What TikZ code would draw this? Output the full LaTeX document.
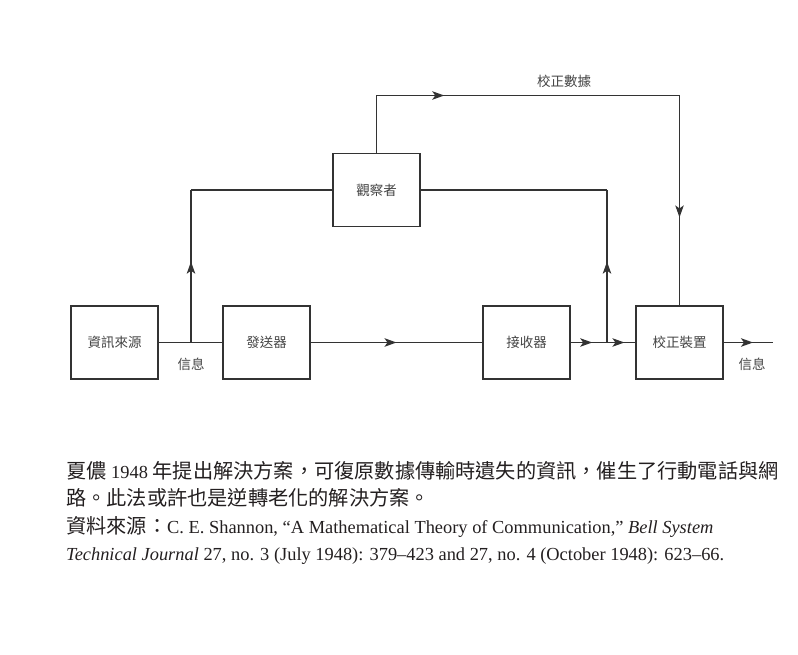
\documentclass[tikz,border=0pt]{standalone}
\usepackage{fontspec}
\setmainfont{Liberation Serif}
\newfontfamily\cjk{Noto Sans CJK TC}
\usepackage{xcolor}
\usepackage{tikz}
\usetikzlibrary{arrows.meta, positioning, calc, decorations.markings}
\definecolor{linegray}{HTML}{333333}
\definecolor{textgray}{HTML}{444444}
\definecolor{captext}{HTML}{231F20}
\newcommand{\zh}[1]{{\cjk\fontsize{20.2}{22}\selectfont #1}}

\begin{document}
\begin{tikzpicture}[
    x=1pt, y=-1pt,
    block/.style={rectangle, draw=linegray, line width=1.2pt, minimum width=87pt, minimum height=73pt, inner sep=0pt, outer sep=0pt, text=textgray, font=\cjk\fontsize{13.5}{15}\selectfont},
    lbl/.style={text=textgray, inner sep=0pt, font=\cjk\fontsize{13.5}{15}\selectfont},
    wire/.style={color=linegray, line width=1.2pt},
    midarr/.style={postaction={decorate}, decoration={markings, mark=at position #1 with {\arrow{Stealth[length=12pt,width=8.5pt,inset=3pt]}}}},
    midarr/.default=0.5,
    capline/.style={anchor=base west, text=captext, inner sep=0pt, font=\fontsize{18.4}{20}\selectfont}
]
\useasboundingbox (0,0) rectangle (798,655);

% blocks
\node[block] (src) at (114.5,342.5) {資訊來源};
\node[block, right=65pt of src] (tx) {發送器};
\node[block, right=173pt of tx] (rx) {接收器};
\node[block, right=66pt of rx] (corr) {校正裝置};
\node[block] (obs) at (376.5,190) {觀察者};

\coordinate (j1) at (191,342.5);
\coordinate (j2) at (607,342.5);
\coordinate (out) at (773,342.5);

% main chain
\draw[wire] (src) -- (tx);
\draw[wire, midarr] (tx) -- (rx);
\draw[wire, midarr=0.6] (rx) -- (j2);
\draw[wire, midarr=0.6] (j2) -- (corr);
\draw[wire, midarr=0.6] (corr) -- (out);

% to the observer
\draw[wire, midarr=0.53] (j1) -- (j1 |- obs);
\draw[wire] (j1 |- obs) -- (obs);
\draw[wire, midarr=0.53] (j2) -- (j2 |- obs);
\draw[wire] (j2 |- obs) -- (obs);

% correction data
\draw[wire, postaction={decorate}, decoration={markings,
      mark=at position 0.22 with {\arrow{Stealth[length=12pt,width=8.5pt,inset=3pt]}},
      mark=at position 0.845 with {\arrow{Stealth[length=12pt,width=8.5pt,inset=3pt]}}}]
  (obs.north) -- ++(0,-58) -| (corr.north);

% labels
\node[lbl] (lbldata) at (564,81) {校正數據};
\node[lbl] (lblin) at (191,364) {信息};
\node[lbl] (lblout) at (752,364) {信息};

% caption
\node[capline] (cap1) at (66,478) {\zh{夏儂} 1948 \zh{年提出解決方案，可復原數據傳輸時遺失的資訊，催生了行動電話與網}};
\node[capline] (cap2) at (66,505.5) {\zh{路。此法或許也是逆轉老化的解決方案。}};
\node[capline] (cap3) at (66,533) {\zh{資料來源：}C. E. Shannon, “A Mathematical Theory of Communication,” \textit{Bell System}};
\node[capline] (cap4) at (66,560.5) {\textit{Technical Journal} 27, no. 3 (July 1948): 379–423 and 27, no. 4 (October 1948): 623–66.};
\end{tikzpicture}
\end{document}
